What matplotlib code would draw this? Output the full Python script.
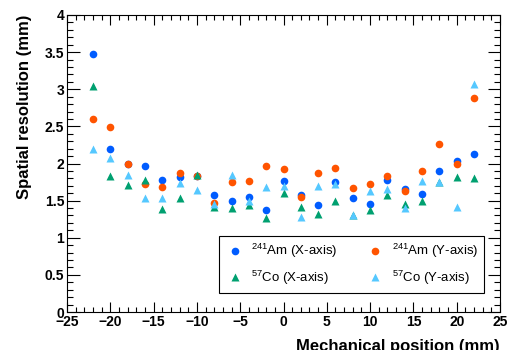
import matplotlib
matplotlib.use("Agg")
import matplotlib.pyplot as plt
from matplotlib.ticker import MultipleLocator

plt.rcParams['font.family'] = ['Liberation Sans', 'DejaVu Sans']
plt.rcParams['mathtext.fontset'] = 'custom'
plt.rcParams['mathtext.rm'] = 'Liberation Sans'
plt.rcParams['mathtext.it'] = 'Liberation Sans'

positions = [-22, -20, -18, -16, -14, -12, -10, -8, -6, -4, -2, 0,
             2, 4, 6, 8, 10, 12, 14, 16, 18, 20, 22]
am_x = [3.47, 2.19, 2.00, 1.97, 1.78, 1.82, 1.83, 1.57, 1.49, 1.55, 1.37, 1.77,
        1.58, 1.44, 1.75, 1.54, 1.46, 1.78, 1.66, 1.59, 1.90, 2.04, 2.13]
am_y = [2.60, 2.49, 2.00, 1.73, 1.69, 1.87, 1.83, 1.47, 1.75, 1.77, 1.97, 1.93,
        1.55, 1.87, 1.94, 1.67, 1.73, 1.83, 1.63, 1.90, 2.26, 2.00, 2.88]
co_x = [3.04, 1.83, 1.71, 1.78, 1.39, 1.54, 1.84, 1.42, 1.40, 1.44, 1.26, 1.60,
        1.41, 1.32, 1.50, 1.31, 1.38, 1.57, 1.46, 1.49, 1.75, 1.82, 1.80]
co_y = [2.19, 2.08, 1.85, 1.53, 1.54, 1.74, 1.64, 1.46, 1.84, 1.50, 1.68, 1.70,
        1.28, 1.70, 1.73, 1.31, 1.63, 1.66, 1.40, 1.76, 1.75, 1.42, 3.07]

labels = [r"$^{241}$Am (X-axis)", r"$^{241}$Am (Y-axis)",
          r"$^{57}$Co (X-axis)", r"$^{57}$Co (Y-axis)"]
colors = ['#005cff', '#ff5400', '#00a070', '#55c8ff']

fig = plt.figure(figsize=(5.07, 3.5), dpi=100)
ax = fig.add_axes([67/507, 38/350, 433/507, 297/350])

h1, = ax.plot(positions, am_x, 'o', color=colors[0], ms=5.5, mec='none', label=labels[0])
h2, = ax.plot(positions, am_y, 'o', color=colors[1], ms=5.5, mec='none', label=labels[1])
h3, = ax.plot(positions, co_x, '^', color=colors[2], ms=6.2, mec='none', label=labels[2])
h4, = ax.plot(positions, co_y, '^', color=colors[3], ms=6.2, mec='none', label=labels[3])

ax.set_xlim(-25, 25)
ax.set_ylim(0, 4)
ax.xaxis.set_major_locator(MultipleLocator(5))
ax.xaxis.set_minor_locator(MultipleLocator(1))
ax.yaxis.set_major_locator(MultipleLocator(0.5))
ax.yaxis.set_minor_locator(MultipleLocator(0.1))

def fmt(v, p):
    return ('%g' % v).replace('-', '\u2212')
ax.xaxis.set_major_formatter(plt.FuncFormatter(fmt))
ax.yaxis.set_major_formatter(plt.FuncFormatter(fmt))

ax.tick_params(axis='both', which='both', direction='in', top=True, right=True,
               width=0.8, colors='black')
ax.tick_params(axis='x', which='major', length=7)
ax.tick_params(axis='x', which='minor', length=3.5)
ax.tick_params(axis='y', which='major', length=9)
ax.tick_params(axis='y', which='minor', length=4.5)
ax.tick_params(axis='both', which='major', labelsize=10, pad=2)

for s in ax.spines.values():
    s.set_linewidth(0.8)

ax.set_xlabel("Mechanical position (mm)", fontsize=12, fontweight='bold', loc='right', labelpad=7)
ax.set_ylabel("Spatial resolution (mm)", fontsize=12, fontweight='bold', loc='top', labelpad=9)

leg = ax.legend([h1, h3, h2, h4], [labels[0], labels[2], labels[1], labels[3]],
                ncol=2, loc='lower left',
                bbox_to_anchor=((219-67)/433, (312-293)/297, (484-219)/433, (293-239)/297),
                mode='expand', borderaxespad=0, fancybox=False, framealpha=1,
                edgecolor='black', prop={'size': 9.5},
                handletextpad=0.5, labelspacing=0.65, borderpad=0.45,
                handlelength=1.5, columnspacing=1.0)
leg.get_frame().set_linewidth(0.8)

fig.canvas.draw()
plt.setp(ax.get_xticklabels() + ax.get_yticklabels(), fontweight='bold')

fig.savefig("out.png", dpi=100)
